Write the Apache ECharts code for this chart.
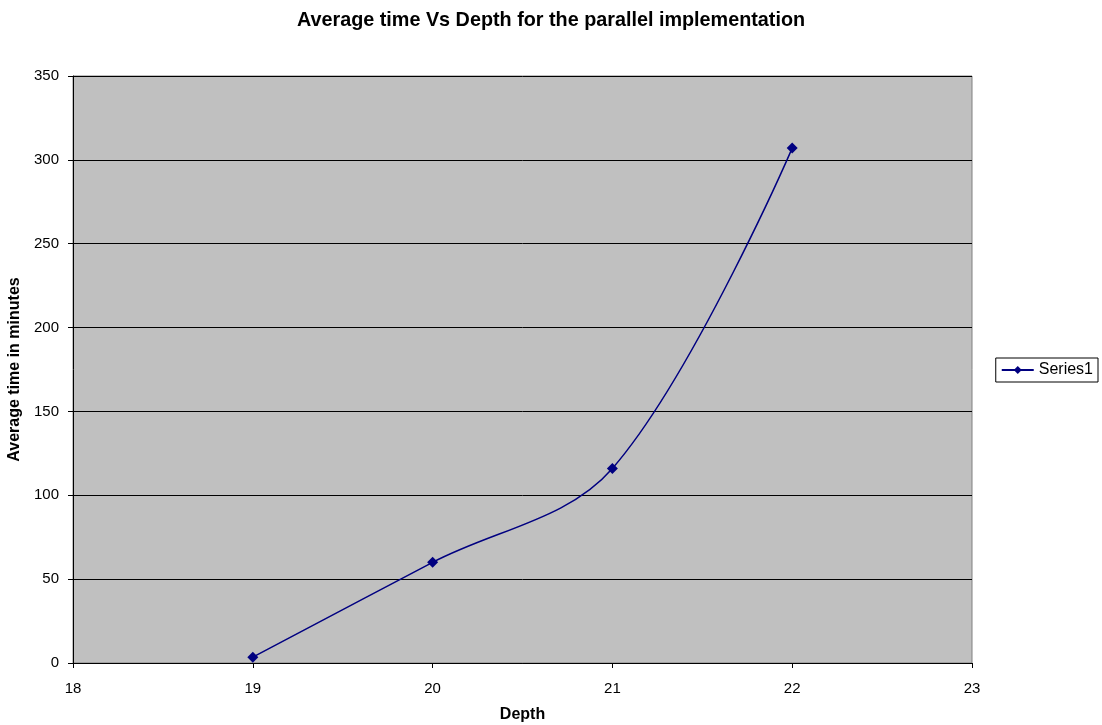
<!DOCTYPE html>
<html>
<head>
<meta charset="utf-8">
<script src="https://cdn.jsdelivr.net/npm/echarts@6/dist/echarts.min.js"></script>
<style>
  html, body { margin: 0; padding: 0; background: #ffffff; }
  #chart { width: 1102px; height: 725px; }
</style>
</head>
<body>
<div id="chart"></div>
<script>
// Depth levels and measured average run time (minutes)
const depths = [19, 20, 21, 22];
const avgTimes = [3.5, 60, 116, 307];
const seriesName = 'Series1';
const xTicks = [18, 19, 20, 21, 22, 23];
const yTicks = [0, 50, 100, 150, 200, 250, 300, 350];

const points = depths.map((d, i) => [d, avgTimes[i]]);
const font = 'Liberation Sans, Arial, sans-serif';

const chart = echarts.init(document.getElementById('chart'));
chart.setOption({
  animation: false,
  backgroundColor: '#ffffff',
  title: {
    text: 'Average time Vs Depth for the parallel implementation',
    left: 'center', top: 6,
    textStyle: { fontFamily: font, fontSize: 19.8, fontWeight: 'bold', color: '#000' }
  },
  legend: {
    data: [seriesName],
    right: 4, top: 358,
    orient: 'vertical',
    itemWidth: 32, itemHeight: 10, itemGap: 4,
    padding: [4, 5, 4, 5],
    borderColor: '#000', borderWidth: 1,
    textStyle: { fontFamily: font, fontSize: 16, color: '#000' }
  },
  grid: {
    left: 73, right: 130, top: 76, bottom: 62,
    containLabel: false, outerBoundsMode: 'none',
    show: true, backgroundColor: '#c0c0c0', borderColor: '#808080', borderWidth: 1
  },
  xAxis: {
    type: 'value', min: xTicks[0], max: xTicks[xTicks.length - 1], interval: 1,
    name: 'Depth', nameLocation: 'middle', nameGap: 44,
    nameTextStyle: { fontFamily: font, fontSize: 16, fontWeight: 'bold', color: '#000' },
    axisLine: { lineStyle: { color: '#000', width: 1 } },
    axisTick: { show: true, length: 5, lineStyle: { color: '#000' } },
    axisLabel: { fontFamily: font, fontSize: 15, color: '#000', margin: 18 },
    splitLine: { show: false }
  },
  yAxis: {
    type: 'value', min: yTicks[0], max: yTicks[yTicks.length - 1], interval: 50,
    name: 'Average time in minutes', nameLocation: 'middle', nameGap: 42,
    nameTextStyle: { fontFamily: font, fontSize: 16, fontWeight: 'bold', color: '#000' },
    axisLine: { show: true, lineStyle: { color: '#000', width: 1 } },
    axisTick: { show: true, length: 5, lineStyle: { color: '#000' } },
    axisLabel: { fontFamily: font, fontSize: 15, color: '#000', margin: 14 },
    splitLine: { show: true, lineStyle: { color: '#000', width: 1 } }
  },
  series: [{
    name: seriesName,
    type: 'line',
    data: points,
    smooth: 0.35,
    symbol: 'diamond',
    symbolSize: 11,
    lineStyle: { color: '#000080', width: 1.5 },
    itemStyle: { color: '#000080' }
  }]
});
</script>
</body>
</html>
